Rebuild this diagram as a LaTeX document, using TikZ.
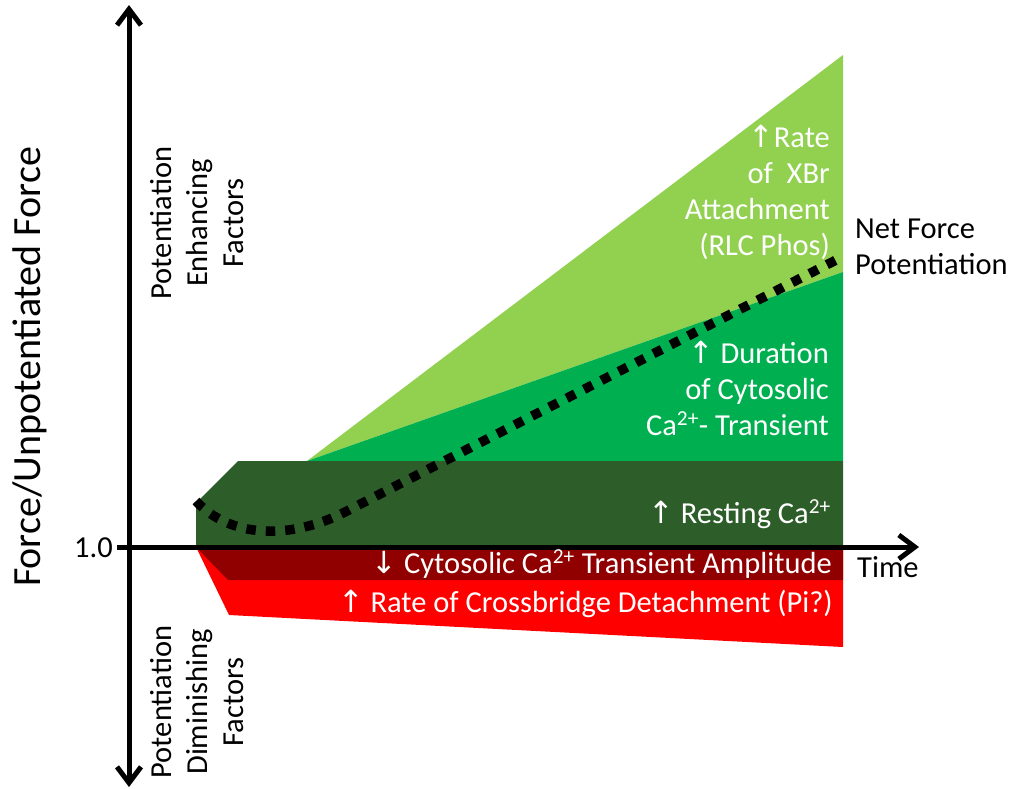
\documentclass[tikz,border=0pt]{standalone}
\usepackage{fontspec}
\setmainfont{Carlito}
\newfontfamily\symfont{DejaVu Sans}
\usetikzlibrary{arrows.meta}
\definecolor{lightgrn}{HTML}{92D050}
\definecolor{midgrn}{HTML}{00B050}
\definecolor{darkgrn}{HTML}{2D5E2A}
\definecolor{darkred}{HTML}{900000}
\definecolor{brightred}{HTML}{FF0000}
\newcommand{\uparr}{{\symfont\char"2191}}
\newcommand{\dnarr}{{\symfont\char"2193}}
\newcommand{\caion}{Ca\textsuperscript{2+}}
\begin{document}
\begin{tikzpicture}[x=1pt,y=-1pt,
  axisline/.style={line width=5pt, {Straight Barb[length=16pt,width=24pt]}-{Straight Barb[length=16pt,width=24pt]}},
  axisarrow/.style={line width=5pt, -{Straight Barb[length=16pt,width=24pt]}},
  netforce/.style={line width=9.5pt, dash pattern=on 9.5pt off 10pt},
  lbl/.style={inner sep=0pt, font=\fontsize{30.5}{36}\selectfont},
  inlbl/.style={lbl, text=white, align=right},
]
\useasboundingbox (0,0) rectangle (1009,788);

% factor bands above the baseline
\fill[lightgrn] (307,461) -- (843,55) -- (843,272) -- cycle;
\fill[midgrn] (307,461) -- (843,272) -- (843,461) -- cycle;
\fill[darkgrn] (196,547) -- (196,503) -- (238,461) -- (843,461) -- (843,547) -- cycle;
% factor bands below the baseline
\fill[brightred] (196,547) -- (229,615) -- (843,647) -- (843,547) -- cycle;
\fill[darkred] (196,547) -- (228,580) -- (843,580) -- (843,547) -- cycle;

% net force potentiation
\coordinate (n0) at (196,501);
\coordinate (n1) at (345,512);
\coordinate (n2) at (838,259);
\draw[netforce] (n0) .. controls (230,538) and (290,540) .. (n1) -- (n2);

% axes
\coordinate (ytop) at (129,5);
\coordinate (ybot) at (129,787);
\coordinate (xstart) at (117,547);
\coordinate (xend) at (919,547);
\draw[axisline] (ybot) -- (ytop);
\draw[axisarrow] (xstart) -- (xend);

\node[lbl, anchor=base east] (one) at (113,557) {1.0};
\node[lbl, anchor=base west] (time) at (857,577) {Time};
\node[lbl, rotate=90, font=\fontsize{40}{48}\selectfont] (ylab) at (30,367) {Force/Unpotentiated Force};
\node[lbl, rotate=90, align=center] (enh) at (197,223) {Potentiation\\Enhancing\\Factors};
\node[lbl, rotate=90, align=center] (dim) at (197,702) {Potentiation\\Diminishing\\Factors};

% multi-line labels are anchored at the baseline of their last line
\node[inlbl, anchor=base east] (xbr) at (830,255) {\uparr Rate\\of\ \ XBr\\Attachment\\(RLC Phos)};
\node[inlbl, anchor=base east] (dur) at (829,435) {\uparr\ Duration\\of Cytosolic\\\caion- Transient};
\node[inlbl, anchor=base east] (rest) at (831,523) {\uparr\ Resting \caion};
\node[inlbl, anchor=base east] (amp) at (832,573) {\dnarr\ Cytosolic \caion\ Transient Amplitude};
\node[inlbl, anchor=base east] (det) at (833,612) {\uparr\ Rate of Crossbridge Detachment (Pi?)};
\node[lbl, align=left, anchor=base west] (net) at (855,274) {Net Force\\Potentiation};
\end{tikzpicture}
\end{document}
